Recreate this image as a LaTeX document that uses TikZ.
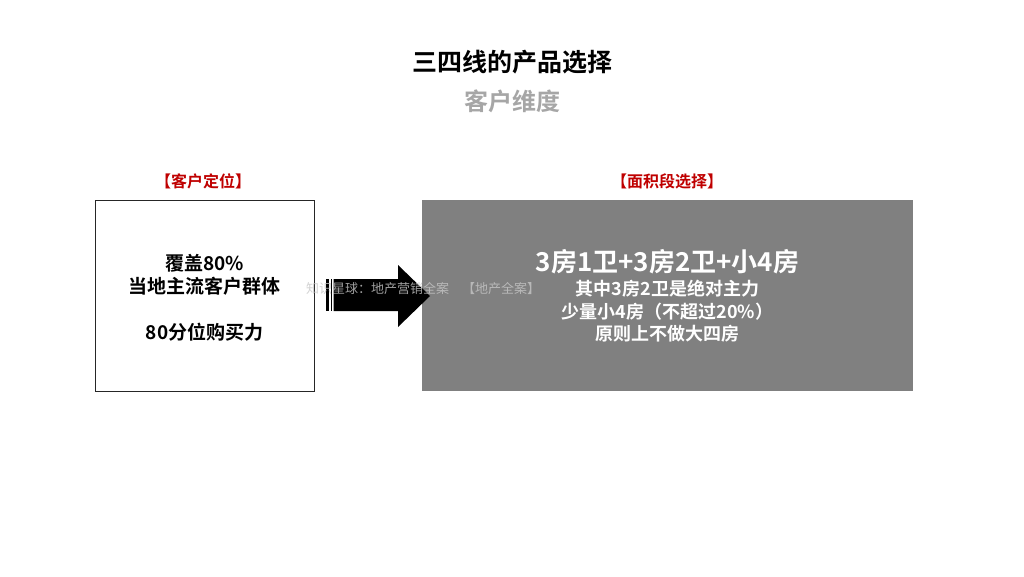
\documentclass[tikz,border=0pt]{standalone}
\usepackage{fontspec}
\setmainfont{Noto Sans CJK SC}[BoldFont={* Bold}]
\newfontfamily\cjkb{Noto Sans CJK SC Bold}
\begin{document}
\begin{tikzpicture}[x=1pt,y=-1pt,
  redlab/.style={text=red!75!black,font=\cjkb\fontsize{16}{18}\selectfont,inner sep=0pt},
  boxtxt/.style={align=center,font=\cjkb\fontsize{19}{23}\selectfont,inner sep=0pt},
  wm/.style={text=black!22,font=\fontsize{13}{15}\selectfont,inner sep=0pt,opacity=0.8}]
\useasboundingbox (0,0) rectangle (1024,576);
\fill[white] (0,0) rectangle (1024,576);
% titles
\node[font=\cjkb\fontsize{25}{28}\selectfont,inner sep=0pt] (title) at (512,62) {三四线的产品选择};
\node[font=\cjkb\fontsize{24}{28}\selectfont,text=black!35,inner sep=0pt] (sub) at (512,101) {客户维度};
% labels
\node[redlab] (lab1) at (203,181) {【客户定位】};
\node[redlab] (lab2) at (667,181) {【面积段选择】};
% left box
\draw[line width=1pt,black!85] (95,200) rectangle (314,391);
\node[boxtxt] (t1) at (204.5,275) {覆盖80\%\\当地主流客户群体};
\node[boxtxt] (t2) at (204.5,332) {80分位购买力};
% grey box
\fill[black!50] (422,200) rectangle (913,391);
\node[text=white,font=\cjkb\fontsize{26}{28}\selectfont,inner sep=0pt] (big) at (667.5,262) {3房1卫+3房2卫+小4房};
\node[text=white,align=center,font=\cjkb\fontsize{18}{22.5}\selectfont,inner sep=0pt] (small) at (667.5,311.5) {其中3房2卫是绝对主力\\少量小4房（不超过20\%）\\原则上不做大四房};
% striped arrow
\fill[black] (326,279) rectangle (328.5,311);
\fill[black] (330.5,279) rectangle (332,311);
\fill[black] (333.5,279) -- (398,279) -- (398,265) -- (430,296) -- (398,327) -- (398,311) -- (333.5,311) -- cycle;
% watermark
\node[wm,anchor=west] (wm1) at (306,289) {知识星球：地产营销全案　【地产全案】};
\end{tikzpicture}
\end{document}
